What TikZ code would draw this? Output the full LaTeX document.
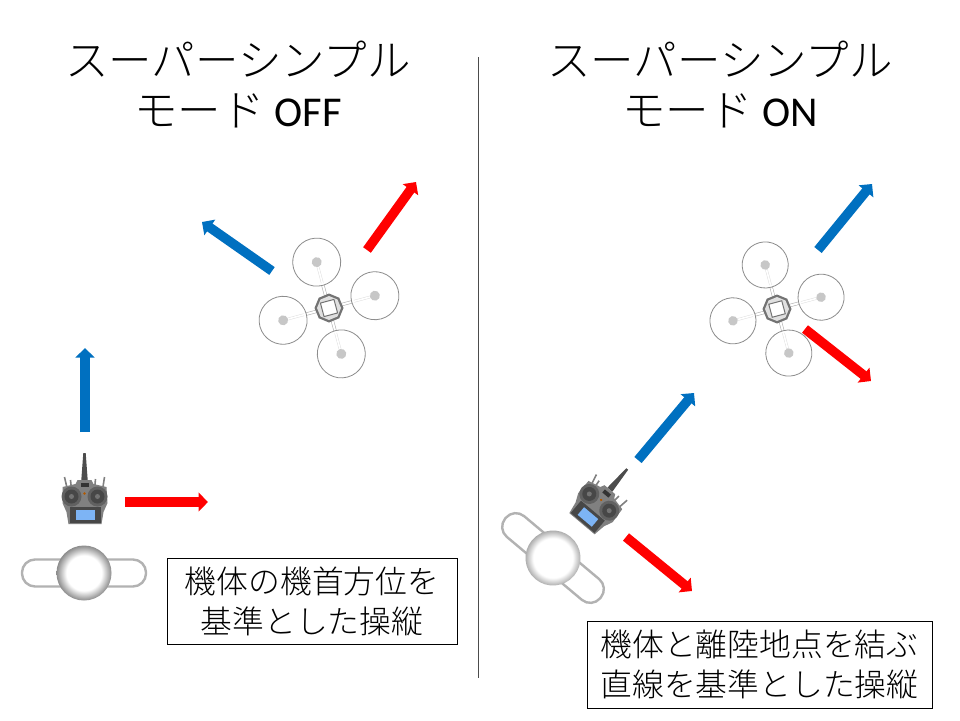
\documentclass[tikz,border=0pt]{standalone}
\usepackage{fontspec}
\setmainfont{Carlito}
\newfontfamily\cjk{Noto Sans CJK JP Light}
\usetikzlibrary{arrows.meta,shapes.geometric}
\definecolor{arrowblue}{RGB}{0,112,192}
\definecolor{arrowred}{RGB}{255,0,0}
\definecolor{screenblue}{RGB}{125,180,245}
\pgfdeclareradialshading{ballshade}{\pgfpoint{0bp}{0bp}}{color(0bp)=(white);color(16bp)=(white);color(25bp)=(black!45);color(50bp)=(black!45)}
\tikzset{
  x=1pt,y=-1pt,
  movearrow/.style={line width=9.5pt,-{Triangle[length=9.5pt,width=18.5pt]}},
  bluearrow/.style={movearrow,draw=arrowblue},
  redarrow/.style={movearrow,draw=arrowred},
  titletext/.style={align=center,inner sep=0pt,font=\fontsize{43.5}{50}\selectfont},
  notebox/.style={draw=black,line width=0.7pt,fill=white,align=center,inner sep=0pt,font=\fontsize{31.8}{40}\selectfont},
  rotorring/.style={draw=black!45,line width=0.8pt,fill=white},
  quad/.pic={
    \begin{scope}[rotate=15]
      \foreach \a in {0,90,180,270}{
        \begin{scope}[rotate=\a]
          \draw[black!30,line width=3.2pt] (10,0) -- (26,0);
          \draw[white,line width=2pt] (10,0) -- (26,0);
          \draw[rotorring] (47.5,0) circle[radius=24];
          \draw[black!12,line width=2.6pt] (26,0) -- (47,0);
          \draw[white,line width=1.6pt] (26,0) -- (47,0);
          \fill[black!22] (47.5,0) circle[radius=5];
        \end{scope}}
      \node[regular polygon,regular polygon sides=8,minimum size=29pt,inner sep=0pt,fill=black!55,rotate=22.5] (hull) at (0,0) {};
      \node[regular polygon,regular polygon sides=8,minimum size=24pt,inner sep=0pt,fill=black!12,rotate=22.5] (deck) at (0,0) {};
      \draw[black!55,line width=1pt,fill=white] (-7,-7) rectangle (7,7);
    \end{scope}
  },
  radio/.pic={
    \fill[black!70] (-1.2,-47) -- (1.2,-47) -- (3.2,-20) -- (-3.2,-20) -- cycle;
    \draw[black!50,line width=1.6pt] (-20,-23) -- (-17,-10) (20,-23) -- (18,-10) (-14,-20) -- (-13,-10) (11,-21) -- (10,-10);
    \fill[black!50] (-7,-20) -- (7,-20) -- (9,-16) -- (22,-13) -- (23,3) -- (19,12) -- (17,24) -- (-16,24) -- (-18,12) -- (-22,3) -- (-22,-13) -- (-9,-16) -- cycle;
    \fill[black!80] (-4,-17) rectangle (4,-13);
    \fill[black!72] (-15,7) -- (16,7) -- (16,23) -- (-15,23) -- cycle;
    \foreach \s in {-1,1}{
      \fill[black!62] (\s*13,-3.5) circle[radius=10];
      \fill[black!72] (\s*13,-3.5) circle[radius=7];
      \fill[black!55] (\s*13,-3.5) circle[radius=2.5];
    }
    \fill[orange!70!black] (0,-6.5) circle[radius=1.3];
    \fill[screenblue] (-8.5,10) rectangle (10,20);
  },
  pilot/.pic={
    \draw[black!30,line width=2.4pt,fill=white,rounded corners=13pt] (-62,-13.5) rectangle (62,13.5);
    \shade[shading=ballshade] (0,0) circle[radius=27.5];
  }
}
\begin{document}
\begin{tikzpicture}
\useasboundingbox (0,0) rectangle (960,720);
\fill[white] (0,0) rectangle (960,720);

\coordinate (divtop) at (478,57);
\coordinate (divbot) at (478,678);
\draw[black!70,line width=0.9pt] (divtop) -- (divbot);

\node[titletext] (titleL) at (238,84) {{\cjk スーパーシンプル}\\{\cjk モード} {\fontsize{42.5}{50}\selectfont OFF}};
\node[titletext] (titleR) at (720,84) {{\cjk スーパーシンプル}\\{\cjk モード} {\fontsize{42.5}{50}\selectfont ON}};

\pic at (329,308) {quad};
\pic[scale=0.96] at (777,309) {quad};
\pic at (84.5,500) {radio};
\pic[rotate=-40] at (597,505) {radio};
\pic at (84,573) {pilot};
\pic[rotate=-40] at (553,558) {pilot};

\coordinate (a1s) at (85,432);  \coordinate (a1e) at (85,348);
\coordinate (a2s) at (125,502); \coordinate (a2e) at (208,502);
\coordinate (a3s) at (272,271); \coordinate (a3e) at (202,222);
\coordinate (a4s) at (367,250); \coordinate (a4e) at (416,182);
\coordinate (a5s) at (638,460); \coordinate (a5e) at (694,393);
\coordinate (a6s) at (626,537); \coordinate (a6e) at (692,591);
\coordinate (a7s) at (818,250); \coordinate (a7e) at (872,184);
\coordinate (a8s) at (805,329); \coordinate (a8e) at (871,381);
\draw[bluearrow] (a1s) -- (a1e);
\draw[redarrow] (a2s) -- (a2e);
\draw[bluearrow] (a3s) -- (a3e);
\draw[redarrow] (a4s) -- (a4e);
\draw[bluearrow] (a5s) -- (a5e);
\draw[redarrow] (a6s) -- (a6e);
\draw[bluearrow] (a7s) -- (a7e);
\draw[redarrow] (a8s) -- (a8e);

\node[notebox,minimum width=290pt,minimum height=86pt] (noteL) at (312,601) {\cjk 機体の機首方位を\\\cjk 基準とした操縦};
\node[notebox,minimum width=345pt,minimum height=87pt] (noteR) at (759.5,664.5) {\cjk 機体と離陸地点を結ぶ\\\cjk 直線を基準とした操縦};
\end{tikzpicture}
\end{document}
